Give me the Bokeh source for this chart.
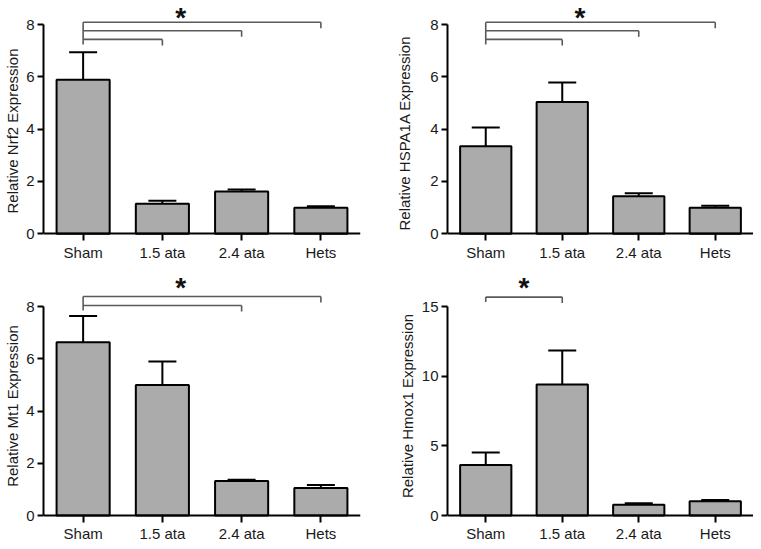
from bokeh.plotting import figure
from bokeh.layouts import column, row
from bokeh.models import Range1d, FixedTicker, ColumnDataSource, Whisker, TeeHead
from bokeh.embed import file_html
from bokeh.resources import INLINE
from bokeh.core.properties import value

# ---------------- data ----------------
groups = ["Sham", "1.5 ata", "2.4 ata", "Hets"]

nrf2_mean = [5.89, 1.15, 1.62, 1.0]
nrf2_sem = [1.05, 0.11, 0.07, 0.05]

hspa1a_mean = [3.35, 5.04, 1.44, 1.0]
hspa1a_sem = [0.71, 0.74, 0.11, 0.07]

mt1_mean = [6.63, 5.0, 1.32, 1.05]
mt1_sem = [1.01, 0.89, 0.05, 0.12]

hmox1_mean = [3.63, 9.4, 0.78, 1.02]
hmox1_sem = [0.9, 2.44, 0.1, 0.1]

ticks_8 = [0, 2, 4, 6, 8]
ticks_15 = [0, 5, 10, 15]

nrf2_comps = [("Sham", "1.5 ata"), ("Sham", "2.4 ata"), ("Sham", "Hets")]
hspa1a_comps = [("Sham", "1.5 ata"), ("Sham", "2.4 ata"), ("Sham", "Hets")]
mt1_comps = [("Sham", "2.4 ata"), ("Sham", "Hets")]
hmox1_comps = [("Sham", "1.5 ata")]

FONT = "Liberation Sans"
BAR_FILL = "#ababab"
BRACKET = "#5a5a5a"


def make_panel(ylabel, means, sems, ticks, comps, levels_px, star_x, star_px,
               width, height, b_left, b_right, b_bottom, top_px, zero_px,
               label_standoff, xlabel_standoff):
    ymax = ticks[-1]
    frame_h = height - b_bottom
    ppu = (zero_px - top_px) / ymax
    y_end = zero_px / ppu
    y_start = -(frame_h - zero_px) / ppu
    p = figure(width=width, height=height, x_range=groups,
               y_range=Range1d(y_start, y_end),
               output_backend="svg", toolbar_location=None,
               min_border_left=b_left, min_border_right=b_right,
               min_border_top=0, min_border_bottom=b_bottom)
    p.outline_line_color = None
    p.grid.visible = False
    p.background_fill_color = "white"
    p.border_fill_color = "white"

    ups = [m + s for m, s in zip(means, sems)]
    src = ColumnDataSource(dict(g=groups, m=means, up=ups))
    p.add_layout(Whisker(source=src, base="g", upper="up", lower="m", dimension="height",
                         line_width=2, line_color="black",
                         upper_head=TeeHead(size=28, line_width=2, line_color="black"),
                         lower_head=None))
    p.vbar(x="g", top="m", bottom=0, width=0.67, source=src, fill_color=BAR_FILL,
           line_color="black", line_width=2)

    # significance brackets
    d = 6 / ppu
    ys = [ymax + lp / ppu for lp in levels_px]
    hx0, hx1, hy = [], [], []
    tx, ty0, ty1 = [], [], []
    for (a, b), y in zip(comps, ys):
        hx0.append(a); hx1.append(b); hy.append(y)
        tx.append(b); ty0.append(y); ty1.append(y - d)
    p.segment(x0=hx0, x1=hx1, y0=hy, y1=hy, line_color=BRACKET, line_width=1.6)
    p.segment(x0=tx, x1=tx, y0=ty0, y1=ty1, line_color=BRACKET, line_width=1.6)
    a0 = comps[0][0]
    p.segment(x0=[a0], x1=[a0], y0=[max(ys)], y1=[min(ys) - 5 / ppu],
              line_color=BRACKET, line_width=1.6)
    p.text(x=[star_x], y=[ymax + star_px / ppu], text=["*"], text_align="center",
           text_baseline="top", text_font=value(FONT), text_font_size="28px",
           text_font_style="bold", text_color="#111111")

    # axes
    xa = p.xaxis[0]
    xa.fixed_location = 0
    xa.axis_line_width = 2
    xa.major_tick_line_width = 2
    xa.major_tick_in = 0
    xa.major_tick_out = 7
    xa.major_label_standoff = xlabel_standoff
    xa.major_label_text_font = FONT
    xa.major_label_text_font_size = "15px"
    xa.major_label_text_color = "#1a1a1a"

    ya = p.yaxis[0]
    ya.ticker = FixedTicker(ticks=ticks)
    ya.bounds = (0, ymax)
    ya.axis_line_width = 2
    ya.major_tick_line_width = 2
    ya.major_tick_in = 0
    ya.major_tick_out = 6
    ya.minor_tick_in = 0
    ya.minor_tick_out = 0
    ya.major_label_standoff = 3
    ya.major_label_text_font = FONT
    ya.major_label_text_font_size = "15px"
    ya.major_label_text_color = "#1a1a1a"
    ya.axis_label = ylabel
    ya.axis_label_standoff = label_standoff
    ya.axis_label_text_font = FONT
    ya.axis_label_text_font_size = "15px"
    ya.axis_label_text_font_style = "normal"
    ya.axis_label_text_color = "#1a1a1a"
    return p


f1 = make_panel("Relative Nrf2 Expression", nrf2_mean, nrf2_sem, ticks_8, nrf2_comps,
                [-14.9, -6.3, 2.3], ("1.5 ata", 0.23), 23,
                390, 270, 43, 30, 9, 24, 233.3, 2, 3)
f2 = make_panel("Relative HSPA1A  Expression", hspa1a_mean, hspa1a_sem, ticks_8, hspa1a_comps,
                [-14.9, -6.3, 2.3], ("1.5 ata", 0.23), 23,
                363, 270, 57, 0, 9, 24, 233.3, 14, 3)
f3 = make_panel("Relative Mt1 Expression", mt1_mean, mt1_sem, ticks_8, mt1_comps,
                [1.0, 10.0], ("1.5 ata", 0.23), 35,
                390, 271, 43, 30, 0, 36, 245, 2, 2)
f4 = make_panel("Relative Hmox1 Expression", hmox1_mean, hmox1_sem, ticks_15, hmox1_comps,
                [9.4], ("Sham", 0.5), 35,
                363, 271, 57, 0, 0, 36, 245, 3, 2)

layout = column(row(f1, f2), row(f3, f4))

open("out.html", "w").write(file_html(layout, INLINE))
